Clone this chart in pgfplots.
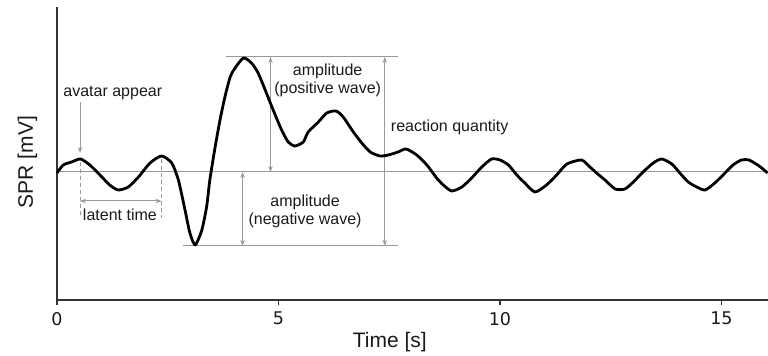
\documentclass[border=0pt]{standalone}
\usepackage{pgfplots}
\pgfplotsset{compat=1.18}
\usepackage{fontspec}
\setmainfont{Liberation Sans}
\newfontfamily\dejavu{DejaVu Sans}
\usetikzlibrary{arrows.meta}
\definecolor{axcol}{HTML}{333333}
\definecolor{anncol}{HTML}{999999}
\definecolor{txtcol}{HTML}{1A1A1A}
\begin{document}
\begin{tikzpicture}
\useasboundingbox (0,0) rectangle (384pt,178pt);
\begin{axis}[
  at={(28.5pt,28pt)}, anchor=south west,
  scale only axis, width=355.5pt, height=146.5pt,
  xmin=0, xmax=16.05, ymin=-128, ymax=165,
  axis x line*=bottom, axis y line*=left,
  axis line style={axcol, line width=1pt},
  xtick={0,5,10,15}, ytick=\empty,
  tick align=outside, major tick length=2.5pt,
  tick style={axcol, line width=0.6pt},
  /pgf/number format/assume math mode=true,
  xticklabel style={font=\dejavu\fontsize{8.75}{10}\selectfont, text=txtcol},
  xlabel={Time [s]}, ylabel={SPR [mV]},
  xlabel style={at={([yshift=-24pt]axis description cs:0.468,0)}, anchor=base, font=\fontsize{10.5}{12}\selectfont, text=txtcol},
  ylabel style={at={([xshift=-12pt]axis description cs:0,0.471)}, anchor=base, rotate=0, font=\fontsize{10.5}{12}\selectfont, text=txtcol},
  clip=false,
]
% reference lines
\draw[anncol, line width=0.5pt] (axis cs:0,0) -- (axis cs:16.05,0);
\draw[anncol, line width=0.5pt] (axis cs:3.81,115) -- (axis cs:7.70,115);
\draw[anncol, line width=0.5pt] (axis cs:2.85,-74) -- (axis cs:7.70,-74);
\draw[anncol, line width=0.5pt, {Stealth[length=3pt,width=2.2pt]}-{Stealth[length=3pt,width=2.2pt]}] (axis cs:4.82,0) -- (axis cs:4.82,115);
\draw[anncol, line width=0.5pt, {Stealth[length=3pt,width=2.2pt]}-{Stealth[length=3pt,width=2.2pt]}] (axis cs:4.19,0) -- (axis cs:4.19,-74);
\draw[anncol, line width=0.5pt, {Stealth[length=3pt,width=2.2pt]}-{Stealth[length=3pt,width=2.2pt]}] (axis cs:7.40,115) -- (axis cs:7.40,-74);
\draw[anncol, line width=0.5pt, -{Stealth[length=3pt,width=2.2pt]}] (axis cs:0.52,70) -- (axis cs:0.52,19);
\draw[anncol, line width=0.5pt, dashed, dash pattern=on 2pt off 1.5pt] (axis cs:0.52,10) -- (axis cs:0.52,-46);
\draw[anncol, line width=0.5pt, dashed, dash pattern=on 2pt off 1.5pt] (axis cs:2.36,13) -- (axis cs:2.36,-46);
\draw[anncol, line width=0.5pt, {Stealth[length=3pt,width=2.2pt]}-{Stealth[length=3pt,width=2.2pt]}] (axis cs:0.52,-29) -- (axis cs:2.36,-29);
% texts
\node[anchor=base, text=txtcol, font=\fontsize{8}{9}\selectfont, inner sep=0pt] at (axis cs:1.26,75) {avatar appear};
\node[anchor=base, text=txtcol, font=\fontsize{8}{9}\selectfont, inner sep=0pt] at (axis cs:1.42,-49) {latent time};
\node[anchor=base, text=txtcol, font=\fontsize{8}{9}\selectfont, inner sep=0pt] at (axis cs:6.11,96) {amplitude};
\node[anchor=base, text=txtcol, font=\fontsize{8}{9}\selectfont, inner sep=0pt] at (axis cs:6.11,78) {(positive wave)};
\node[anchor=base, text=txtcol, font=\fontsize{8}{9}\selectfont, inner sep=0pt] at (axis cs:5.60,-35) {amplitude};
\node[anchor=base, text=txtcol, font=\fontsize{8}{9}\selectfont, inner sep=0pt] at (axis cs:5.60,-53) {(negative wave)};
\node[anchor=base west, text=txtcol, font=\fontsize{8}{9}\selectfont, inner sep=0pt] at (axis cs:7.53,40) {reaction quantity};
% signal
\addplot[black, line width=1.4pt, smooth, tension=0.4, line join=round] coordinates {
(0.00,-1) (0.14,7) (0.33,10) (0.53,13) (0.74,7) (0.97,-3) (1.19,-13) (1.38,-18)
(1.61,-15) (1.84,-5) (2.10,9) (2.36,16) (2.59,9) (2.74,-8) (2.89,-38) (3.00,-61)
(3.12,-73) (3.27,-58) (3.38,-34) (3.45,-8) (3.57,25) (3.68,52) (3.79,75) (3.91,95)
(4.02,104) (4.21,114) (4.39,109) (4.54,99) (4.70,82) (4.88,62) (5.07,42) (5.22,30)
(5.37,26) (5.56,30) (5.67,40) (5.90,50) (6.09,59) (6.30,61) (6.46,55) (6.69,40)
(6.88,29) (7.07,20) (7.29,16) (7.48,17) (7.70,20) (7.88,23) (8.12,17) (8.35,7)
(8.57,-6) (8.72,-13) (8.91,-19) (9.14,-15) (9.36,-6) (9.59,5) (9.81,13) (10.00,12)
(10.19,7) (10.38,-3) (10.56,-11) (10.79,-20) (11.05,-13) (11.28,-3) (11.51,8) (11.84,12)
(12.03,5) (12.18,-1) (12.37,-8) (12.60,-17) (12.82,-17) (13.01,-10) (13.23,0) (13.46,9)
(13.65,13) (13.88,8) (14.06,-1) (14.25,-10) (14.44,-15) (14.63,-18) (14.85,-11) (15.08,-1)
(15.26,7) (15.45,12) (15.62,12) (15.85,6) (16.04,-1)
};
\end{axis}
\end{tikzpicture}
\end{document}
